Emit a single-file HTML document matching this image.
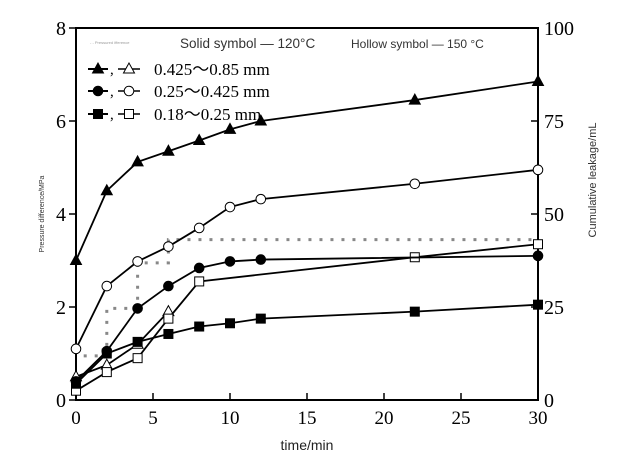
<!DOCTYPE html>
<html><head><meta charset="utf-8"><style>
html,body{margin:0;padding:0;background:#fff;}
svg{display:block;}
.serif{font-family:"Liberation Serif",serif;}
.sans{font-family:"Liberation Sans",sans-serif;}
</style></head><body>
<svg id="chart" width="640" height="463" viewBox="0 0 640 463" xmlns="http://www.w3.org/2000/svg">
<g id="axes"></g>
<g id="marks"></g>
<g id="legend">
  <text class="sans" x="90" y="44" font-size="4" fill="#999">- - Pressured ifference</text>
  <text class="sans" x="180" y="48" font-size="13.5" fill="#333">Solid symbol — 120°C</text>
  <text class="sans" x="351" y="48" font-size="12" fill="#333">Hollow symbol — 150 °C</text>
  <text class="serif" x="154" y="75" font-size="17" fill="#000">0.425～0.85 mm</text>
  <text class="serif" x="154" y="97" font-size="17" fill="#000">0.25～0.425 mm</text>
  <text class="serif" x="154" y="120" font-size="17" fill="#000">0.18～0.25 mm</text>
</g>
<text class="sans" x="0" y="0" font-size="7" fill="#333" transform="translate(44,214) rotate(-90)" text-anchor="middle">Pressure difference/MPa</text>
<text class="sans" x="0" y="0" font-size="11" fill="#333" transform="translate(596,180) rotate(-90)" text-anchor="middle">Cumulative leakage/mL</text>
<text class="sans" x="307" y="450" font-size="14" fill="#222" text-anchor="middle">time/min</text>
</svg>
<script>
const timeTriangleSolid=[0,2,4,6,8,10,12,22,30];
const valTriangleSolid=[3.0,4.5,5.12,5.35,5.58,5.82,6.0,6.45,6.85];
const timeCircleHollow=[0,2,4,6,8,10,12,22,30];
const valCircleHollow=[1.1,2.45,2.98,3.3,3.7,4.15,4.32,4.65,4.95];
const timeCircleSolid=[0,2,4,6,8,10,12,30];
const valCircleSolid=[0.4,1.05,1.97,2.45,2.84,2.98,3.02,3.1];
const timeSquareHollow=[0,2,4,6,8,22,30];
const valSquareHollow=[0.2,0.6,0.9,1.75,2.55,3.07,3.35];
const timeTriangleHollow=[0,2,4,6];
const valTriangleHollow=[0.5,0.75,1.2,1.9];
const timeSquareSolid=[0,2,4,6,8,10,12,22,30];
const valSquareSolid=[0.35,1.0,1.25,1.42,1.58,1.65,1.75,1.9,2.05];
const timePressure=[0.5,2,2,4,4,6,6,30];
const valPressure=[0.95,0.95,1.97,1.97,2.95,2.95,3.45,3.45];
const xTicks=[0,5,10,15,20,25,30];
const yTicks=[0,2,4,6,8];
const y2Ticks=[0,25,50,75,100];

const X0=76,X1=538,Y0=400,Y1=28;
const sx=t=>X0+(t/30)*(X1-X0);
const sy=v=>Y0-(v/8)*(Y0-Y1);
const sy2=v=>Y0-(v/100)*(Y0-Y1);
const NS='http://www.w3.org/2000/svg';
function mk(tag,attrs,parent){const e=document.createElementNS(NS,tag);for(const k in attrs)e.setAttribute(k,attrs[k]);parent.appendChild(e);return e;}
const axes=document.getElementById('axes'),marks=document.getElementById('marks');

let fr=mk('rect',{x:X0,y:Y1,width:X1-X0,height:Y0-Y1,fill:'none',stroke:'#000','stroke-width':2},axes);


xTicks.forEach(t=>{
  let l=mk('line',{x1:sx(t),x2:sx(t),y1:Y0,y2:Y0-7,stroke:'#000','stroke-width':1.5},axes);
  
  
  let tx=mk('text',{x:sx(t),y:Y0+24,'font-size':19,'text-anchor':'middle',class:'serif'},axes);
  tx.textContent=t;
  
  
});
yTicks.forEach(v=>{
  let l=mk('line',{x1:X0-7,x2:X0,y1:sy(v),y2:sy(v),stroke:'#000','stroke-width':1.5},axes);
  
  
  let tx=mk('text',{x:X0-10,y:sy(v)+7,'font-size':20,'text-anchor':'end',class:'serif'},axes);
  tx.textContent=v;
  
  
});
y2Ticks.forEach(v=>{
  let l=mk('line',{x1:X1-7,x2:X1,y1:sy2(v),y2:sy2(v),stroke:'#000','stroke-width':1.5},axes);
  
  
  let tx=mk('text',{x:X1+6,y:sy2(v)+7,'font-size':20,class:'serif'},axes);
  tx.textContent=v;
  
  
});

let pp=mk('polyline',{points:timePressure.map((t,i)=>sx(t)+','+sy(valPressure[i])).join(' '),fill:'none',stroke:'#888','stroke-width':3,'stroke-dasharray':'3,8'},marks);



function marker(shape,filled,x,y,g){
  const f=filled?'#000':'#fff';let e;
  if(shape==='tri')e=mk('polygon',{points:`${x},${y-6} ${x-5.5},${y+4} ${x+5.5},${y+4}`,fill:f,stroke:'#000','stroke-width':1},g);
  else if(shape==='circ')e=mk('circle',{cx:x,cy:y,r:4.8,fill:f,stroke:'#000','stroke-width':1},g);
  else e=mk('rect',{x:x-4.5,y:y-4.5,width:9,height:9,fill:f,stroke:'#000','stroke-width':1},g);
  return e;
}
function series(name,ts,vs,shape,filled){
  const g=mk('g',{},marks);
  
  
  mk('polyline',{points:ts.map((t,i)=>sx(t)+','+sy(vs[i])).join(' '),fill:'none',stroke:'#000','stroke-width':1.8},g);
  ts.forEach((t,i)=>{
    const m=marker(shape,filled,sx(t),sy(vs[i]),g);
    
    
  });
}
series('series-triangle-hollow',timeTriangleHollow,valTriangleHollow,'tri',false);
series('series-square-hollow',timeSquareHollow,valSquareHollow,'sq',false);
series('series-square-solid',timeSquareSolid,valSquareSolid,'sq',true);
series('series-circle-solid',timeCircleSolid,valCircleSolid,'circ',true);
series('series-circle-hollow',timeCircleHollow,valCircleHollow,'circ',false);
series('series-triangle-solid',timeTriangleSolid,valTriangleSolid,'tri',true);

const lg=document.getElementById('legend');
[['tri',69],['circ',91],['sq',114]].forEach(([s,y])=>{
  const g=mk('g',{},lg);
  
  
  mk('line',{x1:88,x2:108,y1:y,y2:y,stroke:'#000','stroke-width':2},g);
  marker(s,true,98,y,g);
  const c=mk('text',{x:110,y:y+5,'font-size':15,class:'serif'},g);c.textContent=',';
  mk('line',{x1:118,x2:140,y1:y,y2:y,stroke:'#000','stroke-width':1.5},g);
  marker(s,false,129,y,g);
});
</script>
</body></html>
